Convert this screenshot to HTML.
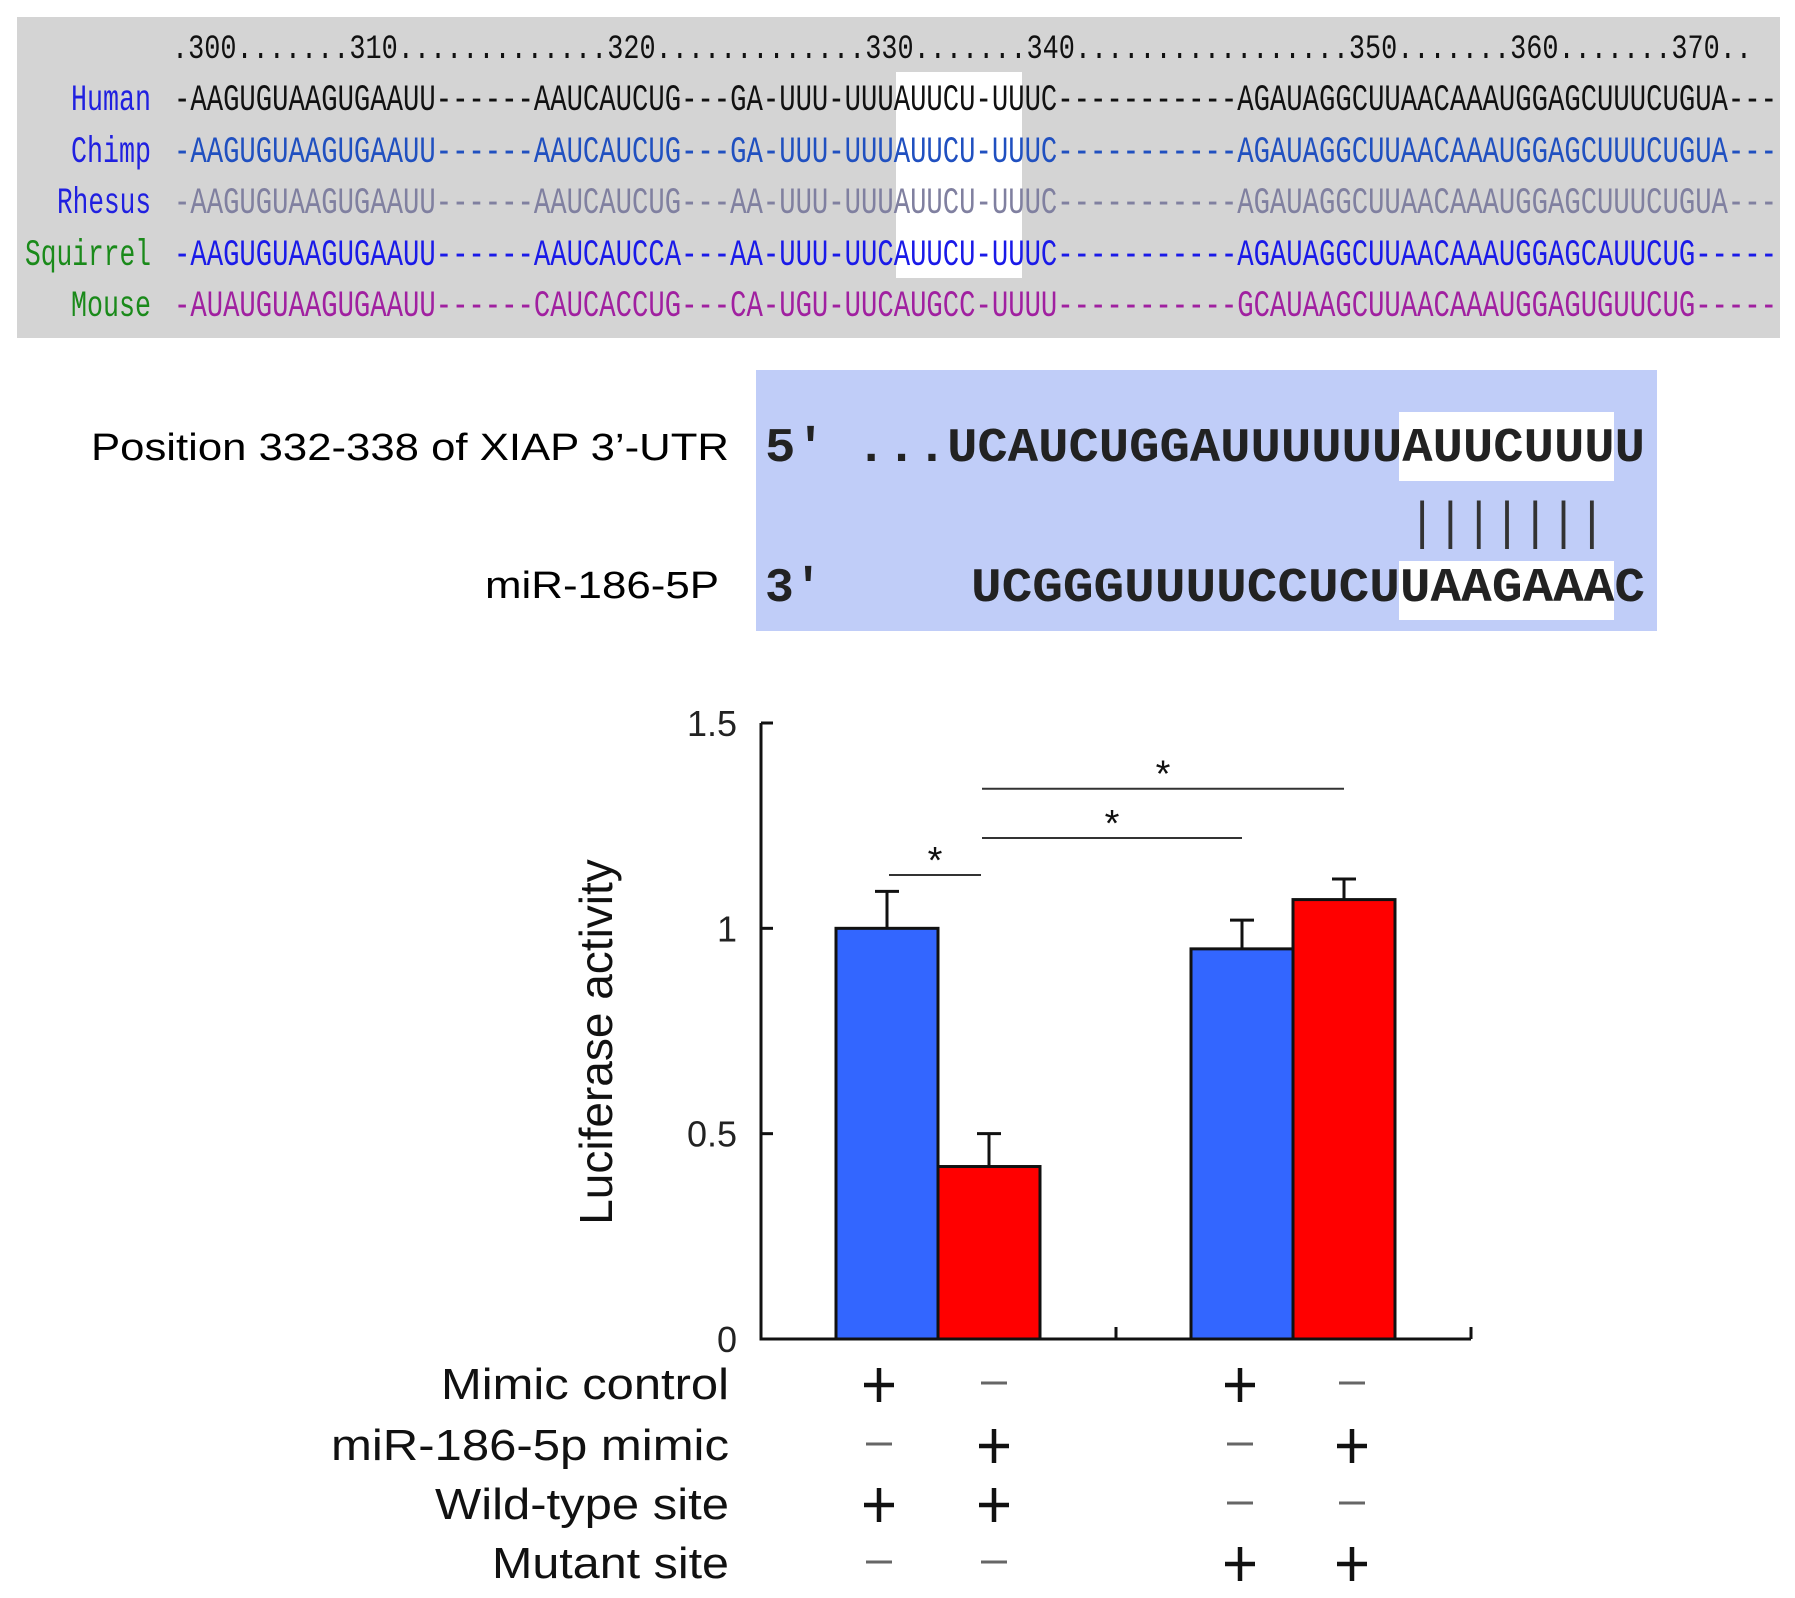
<!DOCTYPE html>
<html><head><meta charset="utf-8"><style>
html,body{margin:0;padding:0;background:#fff;}
svg{display:block;}
text{font-family:"Liberation Sans",sans-serif;}
.mono{font-family:"Liberation Mono",monospace;}
</style></head><body>
<svg id="fig" width="1795" height="1598" viewBox="0 0 1795 1598" xmlns="http://www.w3.org/2000/svg">
<g>
<rect x="17" y="17" width="1763" height="321" fill="#d4d4d4"/>
<rect x="896" y="72" width="126" height="206" fill="#fff"/>
<text class="mono" x="172" y="58" font-size="34" textLength="1580" lengthAdjust="spacingAndGlyphs" fill="#111">.300.......310.............320.............330.......340.................350.......360.......370..</text>
<g font-size="37" class="mono">
<text x="151" y="110" text-anchor="end" fill="#2020e0" textLength="80" lengthAdjust="spacingAndGlyphs" class="mono">Human</text>
<text x="151" y="162" text-anchor="end" fill="#2020e0" textLength="80" lengthAdjust="spacingAndGlyphs" class="mono">Chimp</text>
<text x="151" y="213" text-anchor="end" fill="#2020e0" textLength="94" lengthAdjust="spacingAndGlyphs" class="mono">Rhesus</text>
<text x="151" y="265" text-anchor="end" fill="#1a8a1a" textLength="126" lengthAdjust="spacingAndGlyphs" class="mono">Squirrel</text>
<text x="151" y="316" text-anchor="end" fill="#1a8a1a" textLength="80" lengthAdjust="spacingAndGlyphs" class="mono">Mouse</text>
<text x="174" y="110" fill="#111" textLength="1603" lengthAdjust="spacingAndGlyphs" class="mono">-AAGUGUAAGUGAAUU------AAUCAUCUG---GA-UUU-UUUAUUCU-UUUC-----------AGAUAGGCUUAACAAAUGGAGCUUUCUGUA---</text>
<text x="174" y="162" fill="#2050c0" textLength="1603" lengthAdjust="spacingAndGlyphs" class="mono">-AAGUGUAAGUGAAUU------AAUCAUCUG---GA-UUU-UUUAUUCU-UUUC-----------AGAUAGGCUUAACAAAUGGAGCUUUCUGUA---</text>
<text x="174" y="213" fill="#8080a0" textLength="1603" lengthAdjust="spacingAndGlyphs" class="mono">-AAGUGUAAGUGAAUU------AAUCAUCUG---AA-UUU-UUUAUUCU-UUUC-----------AGAUAGGCUUAACAAAUGGAGCUUUCUGUA---</text>
<text x="174" y="265" fill="#1a1ae8" textLength="1603" lengthAdjust="spacingAndGlyphs" class="mono">-AAGUGUAAGUGAAUU------AAUCAUCCA---AA-UUU-UUCAUUCU-UUUC-----------AGAUAGGCUUAACAAAUGGAGCAUUCUG-----</text>
<text x="174" y="316" fill="#a020a0" textLength="1603" lengthAdjust="spacingAndGlyphs" class="mono">-AUAUGUAAGUGAAUU------CAUCACCUG---CA-UGU-UUCAUGCC-UUUU-----------GCAUAAGCUUAACAAAUGGAGUGUUCUG-----</text>
</g>
</g>
<g>
<text x="729" y="460" text-anchor="end" font-size="38" textLength="638" lengthAdjust="spacingAndGlyphs" fill="#000">Position 332-338 of XIAP 3’-UTR</text>
<text x="719" y="598" text-anchor="end" font-size="38" textLength="234" lengthAdjust="spacingAndGlyphs" fill="#000">miR-186-5P</text>
<rect x="756" y="370" width="901" height="261" fill="#c0cdf8"/>
<rect x="1399" y="412" width="215" height="69" fill="#fff"/>
<rect x="1399" y="561" width="215" height="59" fill="#fff"/>
<text class="mono" x="765" y="461" font-size="48" font-weight="bold" fill="#222" textLength="880" lengthAdjust="spacingAndGlyphs">5' ...UCAUCUGGAUUUUUUAUUCUUUU</text>
<text class="mono" x="1408" y="538" font-size="52" fill="#333" textLength="198" lengthAdjust="spacingAndGlyphs">|||||||</text>
<text class="mono" x="765" y="601" font-size="48" font-weight="bold" fill="#222">3'</text>
<text class="mono" x="971" y="601" font-size="48" font-weight="bold" fill="#222" textLength="674" lengthAdjust="spacingAndGlyphs">UCGGGUUUUCCUCUUAAGAAAC</text>
</g>
<g id="chart"></g>
</svg>
<script>
const categories = ["WT + control", "WT + miR-186-5p", "Mut + control", "Mut + miR-186-5p"];
const values = [1.0, 0.42, 0.95, 1.07];
const errors = [0.09, 0.08, 0.07, 0.05];
const yTicks = [0, 0.5, 1, 1.5];
const yTickLabels = ["0", "0.5", "1", "1.5"];
const barColors = ["#3366ff", "#ff0000", "#3366ff", "#ff0000"];
const sigPairs = [[0, 1, 1.13], [1, 2, 1.22], [1, 3, 1.34]];
const rowLabels = ["Mimic control", "miR-186-5p mimic", "Wild-type site", "Mutant site"];
const rowWidths = [288, 398, 294, 237];
const rowSigns = [["+","-","+","-"],["-","+","-","+"],["+","+","-","-"],["-","-","+","+"]];

const NS = "http://www.w3.org/2000/svg";
const g = document.getElementById("chart");
const X0 = 761, X1 = 1471, Y0 = 1339, Y15 = 723;
const y = v => Y0 - (v / 1.5) * (Y0 - Y15);
const barW = 102;
const barLeft = i => [836, 938, 1191, 1293][i];
const barCx = i => barLeft(i) + barW / 2;
function mk(tag, attrs, parent) {
  const e = document.createElementNS(NS, tag);
  for (const k in attrs) e.setAttribute(k, attrs[k]);
  (parent || g).appendChild(e);
  return e;
}
categories.forEach((c, i) => {
  const b = mk("rect", {x: barLeft(i), y: y(values[i]), width: barW, height: Y0 - y(values[i]), fill: barColors[i], stroke: "#111", "stroke-width": 3});
  
  
  const e = mk("path", {d: `M${barCx(i)} ${y(values[i])}V${y(values[i] + errors[i])}M${barCx(i) - 12} ${y(values[i] + errors[i])}H${barCx(i) + 12}`, stroke: "#111", "stroke-width": 3, fill: "none"});
  
  
});
const ax = mk("path", {d: `M${X0} ${Y15}V${Y0}H${X1}M${X1} ${Y0}V${Y0 - 12}M1116 ${Y0}V${Y0 - 12}`, stroke: "#111", "stroke-width": 3, fill: "none"});


yTicks.forEach((t, i) => {
  const tk = mk("line", {x1: X0, x2: X0 + 12, y1: y(t), y2: y(t), stroke: "#111", "stroke-width": 3});
  
  
  const tl = mk("text", {x: 737, y: y(t) + 13, "text-anchor": "end", "font-size": 36, fill: "#222"});
  tl.textContent = yTickLabels[i];
  
  
});
const yt = mk("text", {x: 0, y: 0, transform: "translate(612 1042) rotate(-90)", "text-anchor": "middle", "font-size": 46, fill: "#111"});
yt.textContent = "Luciferase activity";


sigPairs.forEach(([a, b, v], k) => {
  const xa = k === 0 ? barCx(a) + 2 : barCx(a) - 7, xb = k === 0 ? barCx(b) - 8 : barCx(b);
  const ln = mk("line", {x1: xa, x2: xb, y1: y(v), y2: y(v), stroke: "#333", "stroke-width": 2});
  
  
  const st = mk("text", {x: (xa + xb) / 2, y: y(v) - 2, "text-anchor": "middle", "font-size": 38, fill: "#111"});
  st.textContent = "*";
  
  
});
const rowY = [1399, 1460, 1519, 1578];
const colX = [879, 994, 1240, 1352];
rowLabels.forEach((lab, r) => {
  const t = mk("text", {x: 729, y: rowY[r], "text-anchor": "end", "font-size": 44, fill: "#111", textLength: rowWidths[r], lengthAdjust: "spacingAndGlyphs"});
  t.textContent = lab;
  
  
  rowSigns[r].forEach((s, c) => {
    const cy = rowY[r] - 14;
    if (s === "+") {
      const p = mk("path", {d: `M${colX[c] - 15} ${cy}H${colX[c] + 15}M${colX[c]} ${cy - 17}V${cy + 17}`, stroke: "#111", "stroke-width": 4.5});
      
      
    } else {
      const p = mk("path", {d: `M${colX[c] - 13} ${cy - 2}H${colX[c] + 13}`, stroke: "#666", "stroke-width": 3});
      
      
    }
  });
});
</script>
</body></html>
